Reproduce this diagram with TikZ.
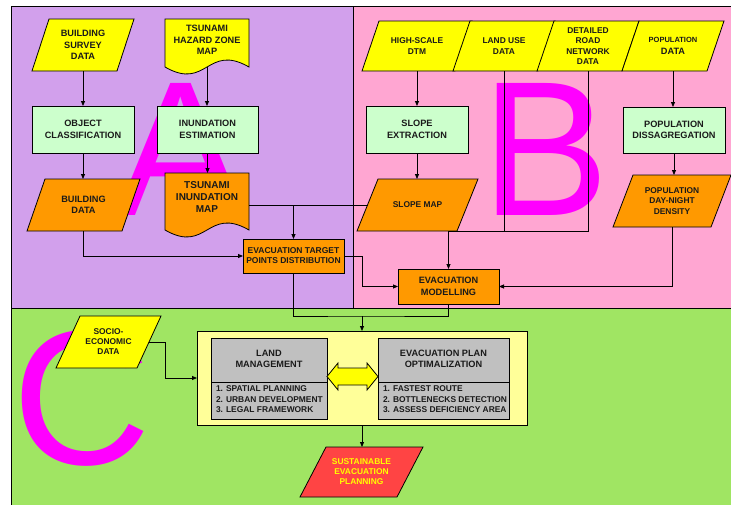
\documentclass[tikz,border=0pt]{standalone}
\usepackage{fontspec}
\setmainfont{Liberation Sans}
\usetikzlibrary{calc,arrows.meta}
\pgfdeclarelayer{bglayer}
\pgfdeclarelayer{letters}
\pgfdeclarelayer{shapes}
\pgfsetlayers{bglayer,letters,shapes,main}
\definecolor{purp}{RGB}{210,160,236}
\definecolor{pinkbg}{RGB}{255,166,210}
\definecolor{greenbg}{RGB}{160,229,99}
\definecolor{ylw}{RGB}{255,255,0}
\definecolor{lgreen}{RGB}{204,255,204}
\definecolor{orng}{RGB}{255,153,0}
\definecolor{mag}{RGB}{255,0,255}
\definecolor{greybox}{RGB}{192,192,192}
\definecolor{lyellow}{RGB}{255,255,153}
\definecolor{redf}{RGB}{255,68,68}
\definecolor{txtc}{RGB}{26,26,26}
\tikzset{
  ln/.style={draw=black, line width=0.8pt},
  arr/.style={ln, -{Triangle[length=5pt,width=4pt]}},
  shapeline/.style={draw=black, line width=0.8pt},
  pnode/.style={rectangle, inner sep=0pt, outer sep=0pt, align=center, text=txtc},
  fA/.style={font=\fontsize{9.2}{11.5}\selectfont\bfseries},
  fB/.style={font=\fontsize{8.4}{10.3}\selectfont\bfseries},
  boxnode/.style={pnode, draw=black, line width=0.8pt},
  big/.style={font=\fontsize{192}{192}\selectfont, text=mag, inner sep=0pt, outer sep=0pt, anchor=base},
}
% parallelogram: [opts]{name}{x,y}{edge width}{height}{slant}{fill}{text}
\newcommand\pgram[8][]{%
  \node[pnode,minimum width=#4,minimum height=#5,#1] (#2) at (#3) {#8};
  \begin{pgfonlayer}{shapes}
  \draw[shapeline,fill=#7] ([xshift=-#6/2]#2.south west) -- ([xshift=-#6/2]#2.south east) -- ([xshift=#6/2]#2.north east) -- ([xshift=#6/2]#2.north west) -- cycle;
  \end{pgfonlayer}}
% document: [opts]{name}{x,y}{width}{height}{amp}{fill}{text}{raise}
\newcommand\docnode[9][]{%
  \node[pnode,minimum width=#4,minimum height=#5] (#2) at (#3) {};
  \node[pnode,#1] (#2-t) at ([yshift=#9]#2.center) {#8};
  \begin{pgfonlayer}{shapes}
  \draw[shapeline,fill=#7] (#2.south west) -- (#2.north west) -- (#2.north east) -- (#2.south east) .. controls ($(#2.south east)+(-#4/2,-#6*3.46)$) and ($(#2.south west)+(#4/2,#6*3.46)$) .. (#2.south west) -- cycle;
  \end{pgfonlayer}}
\begin{document}
\begin{tikzpicture}[x=1pt,y=-1pt]
\useasboundingbox (0,0) rectangle (731,504);
\begin{pgfonlayer}{bglayer}
\fill[white] (0,0) rectangle (731,504);
\draw[ln, fill=purp] (11,6.5) rectangle (353,308);
\draw[ln, fill=pinkbg] (353,6.5) rectangle (740,308);
\draw[ln, fill=greenbg] (11,308) rectangle (740,512);
\end{pgfonlayer}
\begin{pgfonlayer}{letters}
\node[big] (bigA) at (181,215) {A};
\node[big] (bigB) at (546,215) {B};
\node[big] (bigC) at (81.7,464) {C};
\end{pgfonlayer}
% ---- Region A
\pgram[fA]{bsd}{83,45}{85}{52}{17}{ylw}{BUILDING\\SURVEY\\DATA}
\docnode[fA]{hz}{207,43}{84}{48}{7}{ylw}{TSUNAMI\\HAZARD ZONE\\MAP}{3pt}
\node[boxnode, fill=lgreen, fA, minimum width=102, minimum height=47] (oc) at (83,129.5) {OBJECT\\CLASSIFICATION};
\node[boxnode, fill=lgreen, fA, minimum width=101, minimum height=47] (ie) at (207.5,129.5) {INUNDATION\\ESTIMATION};
\pgram[fA]{bd}{83.5,205}{95}{52}{18}{orng}{BUILDING\\DATA}
\docnode[font=\fontsize{10}{12}\selectfont\bfseries]{im}{207,201.5}{84}{57}{7}{orng}{TSUNAMI\\INUNDATION\\MAP}{4.5pt}
\node[boxnode, fill=orng, font=\fontsize{8.5}{10}\selectfont\bfseries, minimum width=101, minimum height=34] (etp) at (293.5,256) {EVACUATION TARGET\\POINTS DISTRIBUTION};
% ---- Region B
\pgram[font=\fontsize{8.4}{11}\selectfont\bfseries]{dtm}{417,46}{93}{50}{17}{ylw}{HIGH-SCALE\\DTM}
\pgram[font=\fontsize{8.4}{11}\selectfont\bfseries]{lu}{504,46}{85}{50}{17}{ylw}{LAND USE\\DATA}
\pgram[fB]{rd}{588,46}{85}{50}{17}{ylw}{DETAILED\\ROAD\\NETWORK\\DATA}
\pgram[fA]{pd}{673,46}{85}{50}{17}{ylw}{{\fontsize{7.5}{9}\selectfont POPULATION}\\DATA}
\node[boxnode, fill=lgreen, fA, minimum width=102, minimum height=47] (se) at (417,129.5) {SLOPE\\EXTRACTION};
\node[boxnode, fill=lgreen, fA, minimum width=102, minimum height=46] (pdis) at (674,130) {POPULATION\\DISSAGREGATION};
\pgram[fB]{sm}{417.5,205}{100}{52}{21}{orng}{SLOPE MAP}
\pgram[font=\fontsize{8.4}{10.5}\selectfont\bfseries]{pdn}{672,201}{98}{52}{20}{orng}{POPULATION\\DAY-NIGHT\\DENSITY}
\node[boxnode, fill=orng, font=\fontsize{9.2}{12}\selectfont\bfseries, minimum width=101, minimum height=35] (em) at (448.5,286.5) {EVACUATION\\MODELLING};
% ---- Region C
\pgram[font=\fontsize{8.4}{10}\selectfont\bfseries]{soc}{108.5,342}{81}{52}{24}{ylw}{SOCIO-\\ECONOMIC\\DATA}
\node[boxnode, fill=lyellow, minimum width=330, minimum height=94] (yb) at (362,378) {};
\node[boxnode, fill=greybox, minimum width=116, minimum height=81] (lm) at (269,378.5) {};
\node[boxnode, fill=greybox, minimum width=131, minimum height=81] (ep) at (443.5,378.5) {};
\draw[ln] (lm.west |- 0,382) -- (lm.east |- 0,382);
\draw[ln] (ep.west |- 0,382) -- (ep.east |- 0,382);
\node[pnode, font=\fontsize{9.2}{11}\selectfont\bfseries] (lmt) at (269,358.5) {LAND\\MANAGEMENT};
\node[pnode, font=\fontsize{9.2}{11}\selectfont\bfseries] (ept) at (443.5,358.5) {EVACUATION PLAN\\OPTIMALIZATION};
\node[pnode, align=left, anchor=west, font=\fontsize{8.4}{10.4}\selectfont\bfseries] (lml) at (216,399.5) {1. SPATIAL PLANNING\\2. URBAN DEVELOPMENT\\3. LEGAL FRAMEWORK};
\node[pnode, align=left, anchor=west, font=\fontsize{8.4}{10.4}\selectfont\bfseries] (epl) at (383,399.5) {1. FASTEST ROUTE\\2. BOTTLENECKS DETECTION\\3. ASSESS DEFICIENCY AREA};
\coordinate (dl) at ([yshift=2pt]lm.east);
\coordinate (dr) at ([yshift=2pt]ep.west);
\draw[shapeline, fill=ylw] (dl) -- ++(11,-13.5) -- ++(0,5) -- ($(dr)+(-11,-8.5)$) -- ++(0,-5) -- (dr) -- ++(-11,13.5) -- ++(0,-5) -- ($(dl)+(11,8.5)$) -- ++(0,5) -- cycle;
\pgram[font=\fontsize{8.4}{10}\selectfont\bfseries, text=ylw]{sus}{361.5,472}{97}{50}{26}{redf}{SUSTAINABLE\\EVACUATION\\PLANNING}
% ---- Connectors
\draw[arr] (bsd.south) -- (oc.north);
\draw[arr] (hz.south) -- (hz.south |- ie.north);
\draw[arr] (oc.south) -- (oc.south |- bd.north);
\draw[arr] (ie.south) -- (ie.south |- im.north);
\draw[ln] (im.east |- sm.west) -- (sm.west);
\draw[arr] (etp.north |- sm.west) -- (etp.north);
\draw[arr] (bd.south) |- (etp.west);
\draw[arr] (etp.east) -- ++(18,0) |- (em.west);
\coordinate (jC) at (361.5,316);
\draw[ln] (etp.south) |- (jC) -| (em.south);
\draw[arr] (yb.north |- jC) -- (yb.north);
\draw[arr] (dtm.south) -- (se.north);
\draw[arr] (se.south) -- (se.south |- sm.north);
\draw[ln] (lu.south) -- (lu.south |- sm.south);
\draw[ln] (rd.south) |- (em.north |- sm.south);
\draw[arr] (em.north |- sm.south) -- (em.north);
\draw[arr] (pd.south) -- (pd.south |- pdis.north);
\draw[arr] (pdis.south) -- (pdis.south |- pdn.north);
\draw[arr] (pdn.south) |- (em.east);
\draw[arr] (soc.east) -- ++(16,0) |- (yb.west);
\draw[arr] (yb.south) -- (yb.south |- sus.north);
\end{tikzpicture}
\end{document}
